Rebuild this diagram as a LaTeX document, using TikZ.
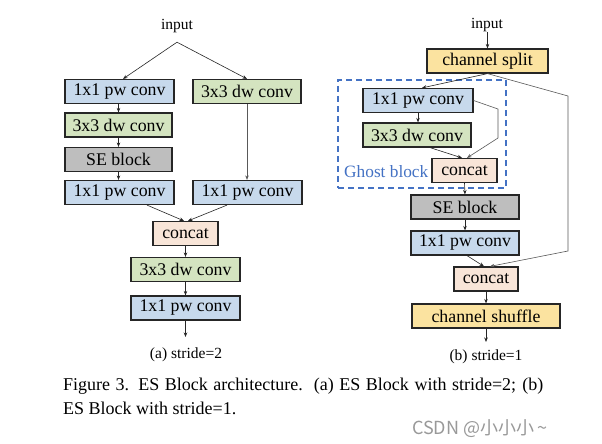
\documentclass[tikz,border=0pt]{standalone}
\usepackage{fontspec}
\setmainfont{Liberation Serif}
\newfontfamily\cjk{Noto Sans CJK SC}
\usetikzlibrary{arrows.meta}
\definecolor{cblue}{HTML}{C7D9EC}
\definecolor{cgreen}{HTML}{D4E4C0}
\definecolor{cgray}{HTML}{BEBEBE}
\definecolor{cpeach}{HTML}{F8E5D8}
\definecolor{cyellow}{HTML}{FBE3A0}
\definecolor{ghostblue}{HTML}{4472C4}
\tikzset{
  blk/.style={draw=black!85, line width=1.2pt, inner sep=0pt, minimum height=24pt,
    font=\fontsize{17.8}{17.8}\selectfont},
  pw/.style={blk, fill=cblue, minimum width=109pt},
  dw/.style={blk, fill=cgreen, minimum width=108pt},
  se/.style={blk, fill=cgray, minimum width=108pt},
  cc/.style={blk, fill=cpeach, minimum width=65pt},
  yl/.style={blk, fill=cyellow},
  arr/.style={draw=black!85, line width=0.6pt, -{Stealth[length=4.5pt,width=3.5pt]}},
  garr/.style={draw=black!65, line width=0.6pt, -{Stealth[length=4.5pt,width=3.5pt]}},
  lbl/.style={font=\fontsize{15.5}{15.5}\selectfont, inner sep=0pt},
}
\begin{document}
\begin{tikzpicture}[x=1pt,y=-1pt]
\useasboundingbox[fill=white] (0,0) rectangle (602,444);
% ---------- (a) stride=2 ----------
\node[lbl, minimum height=32pt] (ain) at (177,26) {input};
\node[pw] (a1) at (119.5,91.5) {1x1 pw conv};
\node[dw] (a2) at (247,91.5) {3x3 dw conv};
\node[dw, minimum width=107pt] (a3) at (118.5,125) {3x3 dw conv};
\node[se, minimum width=107pt] (a4) at (118.5,159.5) {SE block};
\node[pw] (a5) at (119.5,192.5) {1x1 pw conv};
\node[pw] (a6) at (247.5,192.5) {1x1 pw conv};
\node[cc] (a7) at (185.5,233.5) {concat};
\node[dw, minimum width=109pt] (a8) at (185.5,269.5) {3x3 dw conv};
\node[pw] (a9) at (185.5,308) {1x1 pw conv};
\coordinate (aout) at (185.5,337);
\node[lbl] (alab) at (186,355) {(a) stride=2};

\draw[arr] (ain.south) -- ([xshift=3.5pt]a1.north);
\draw[arr] (ain.south) -- (a2.north);
\draw[arr] (a1.south -| a3.north) -- (a3.north);
\draw[arr] (a3.south) -- (a4.north);
\draw[arr] (a4.south) -- (a4.south |- a5.north);
\draw[garr] (a2.south) -- (a2.south |- a6.north);
\draw[arr] ([xshift=27.5pt]a5.south) -- ([xshift=-1.5pt]a7.north);
\draw[arr] ([xshift=-20.5pt]a6.south) -- ([xshift=2.5pt]a7.north);
\draw[arr] (a7.south) -- (a8.north);
\draw[arr] (a8.south) -- (a9.north);
\draw[arr] (a9.south) -- (aout);

% ---------- (b) stride=1 ----------
\node[lbl] (bin) at (487,25) {input};
\node[yl, minimum width=121pt] (b1) at (487.5,61) {channel split};
\node[draw=ghostblue, line width=1.4pt, dash pattern=on 6pt off 4pt,
  minimum width=168pt, minimum height=108pt, inner sep=0pt] (gb) at (422,134) {};
\node[pw, minimum width=110pt] (b2) at (418,100.5) {1x1 pw conv};
\node[dw] (b3) at (417,135) {3x3 dw conv};
\node[cc] (b4) at (464.5,170.5) {concat};
\node[font=\fontsize{17.3}{17.3}\selectfont, text=ghostblue, inner sep=0pt, anchor=east] (gtxt) at (428.5,172) {Ghost block};
\node[se] (b5) at (465,207) {SE block};
\node[pw, minimum width=108pt] (b6) at (465,243) {1x1 pw conv};
\node[cc, minimum width=64pt] (b7) at (486,279) {concat};
\node[yl, minimum width=148pt] (b8) at (486,316) {channel shuffle};
\coordinate (bout) at (486,342);
\node[lbl] (blab) at (486,357) {(b) stride=1};
\coordinate (bk1) at (568,96);
\coordinate (bk2) at (568,251);
\coordinate (gk1) at (498,109);
\coordinate (gk2) at (498,138);

\draw[arr] (bin.south -| b1.north) -- (b1.north);
\draw[arr] (b1.south) -- ([xshift=4pt]b2.north);
\draw[garr] (b1.south) -- (bk1) -- (bk2) -- ([xshift=4pt]b7.north);
\draw[arr] (b2.south) -- (b2.south |- b3.north);
\draw[garr] (b2.east) -- (gk1) -- (gk2) -- ([xshift=2.5pt]b4.north);
\draw[arr] ([xshift=13pt]b3.south) -- ([xshift=-2.5pt]b4.north);
\draw[arr] (b4.south) -- (b5.north);
\draw[arr] (b5.south) -- (b6.north);
\draw[arr] ([xshift=2pt]b6.south) -- ([xshift=-2pt]b7.north);
\draw[arr] (b7.south) -- (b8.north);
\draw[arr] (b8.south) -- (bout);

% ---------- caption ----------
\node[anchor=base west, inner sep=0pt, font=\fontsize{18}{24}\selectfont] (cap1) at (63,390)
  {\makebox[480pt][s]{Figure 3. ES Block architecture.\ \ (a) ES Block with stride=2; (b)}};
\node[anchor=base west, inner sep=0pt, font=\fontsize{18}{24}\selectfont] (cap2) at (63,414)
  {ES Block with stride=1.};
\node[anchor=base west, inner sep=0pt, text=black!40, font=\cjk\fontsize{18}{18}\selectfont] (wm) at (412,434)
  {CSDN @小小小\,\textasciitilde};
\end{tikzpicture}
\end{document}
